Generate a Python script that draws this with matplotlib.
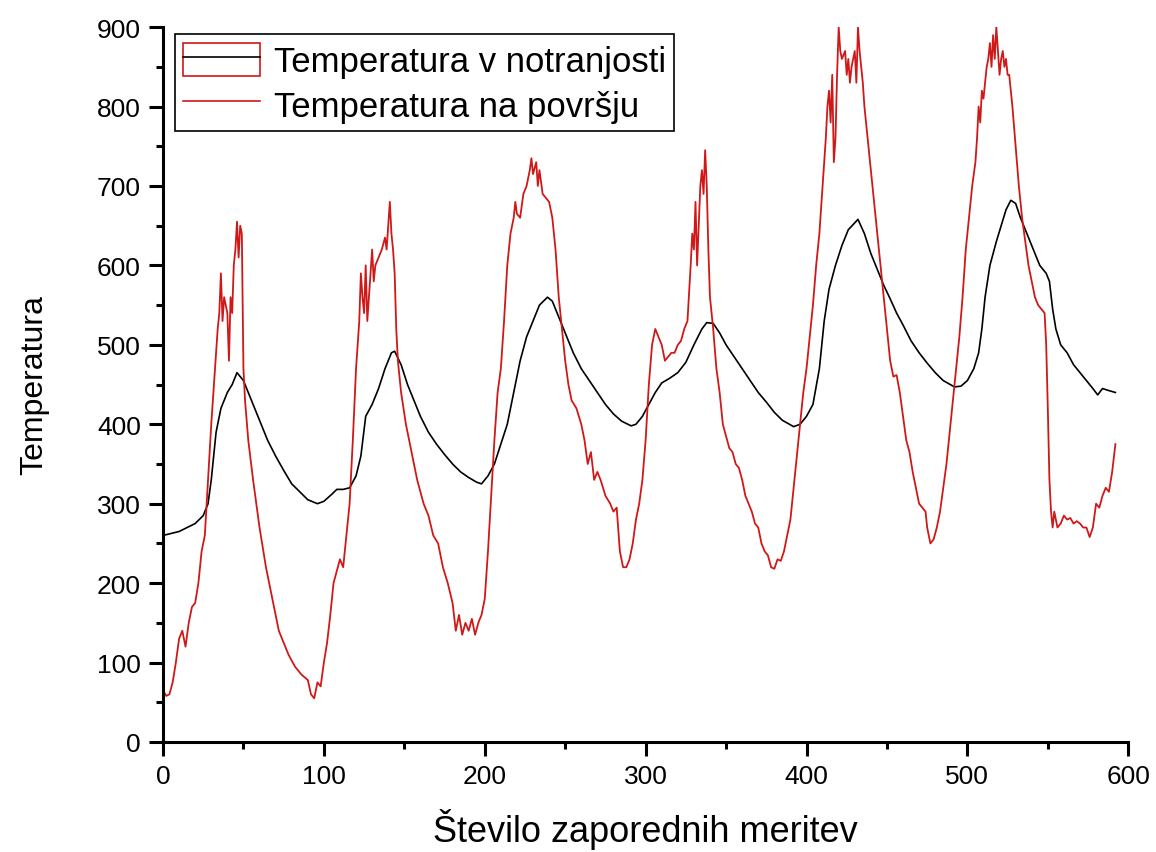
"""
Temperature inside vs. on the surface over consecutive measurements.
"""

import matplotlib
matplotlib.use("Agg")
import matplotlib.pyplot as plt
from matplotlib.lines import Line2D
from matplotlib.patches import Rectangle
from matplotlib.legend_handler import HandlerTuple
from matplotlib.ticker import MultipleLocator

# surface temperature (red)
surface_idx = [0, 2, 4, 6, 8, 10, 12, 14, 16, 18, 20, 22, 24, 26, 28, 30, 32, 34, 35, 36,
               37, 38, 40, 41, 42, 43, 44, 45, 46, 47, 48, 49, 50, 51, 53, 56, 60, 64, 68, 72,
               75, 78, 82, 86, 90, 92, 94, 96, 98, 100, 102, 104, 106, 108, 110, 112, 114, 116, 118, 120,
               122, 123, 124, 125, 126, 127, 128, 130, 131, 132, 134, 136, 138, 139, 140, 141, 142, 143, 144, 145,
               146, 148, 151, 155, 158, 162, 165, 168, 171, 174, 177, 180, 182, 184, 186, 188, 190, 192, 194, 196,
               198, 200, 202, 204, 206, 208, 210, 212, 214, 216, 218, 219, 220, 222, 224, 226, 228, 229, 230, 232,
               233, 234, 236, 238, 240, 242, 244, 246, 248, 250, 252, 254, 257, 260, 262, 264, 266, 268, 270, 272,
               275, 278, 280, 282, 284, 286, 288, 290, 292, 294, 296, 298, 300, 302, 304, 306, 308, 310, 312, 314,
               316, 318, 320, 322, 324, 326, 328, 329, 330, 331, 332, 333, 334, 335, 336, 337, 338, 339, 340, 342,
               344, 346, 348, 350, 352, 354, 356, 358, 360, 362, 364, 366, 368, 370, 372, 374, 376, 378, 380, 382,
               384, 386, 388, 390, 392, 394, 396, 398, 400, 402, 404, 406, 408, 410, 412, 413, 414, 415, 416, 417,
               418, 419, 420, 421, 422, 424, 425, 426, 427, 428, 430, 431, 432, 433, 434, 435, 436, 438, 440, 442,
               444, 446, 448, 450, 452, 454, 456, 458, 460, 462, 464, 466, 468, 470, 472, 474, 475, 477, 479, 481,
               483, 485, 487, 489, 491, 493, 495, 497, 499, 501, 503, 505, 506, 507, 508, 509, 510, 511, 512, 513,
               514, 515, 516, 517, 518, 519, 520, 521, 522, 523, 524, 525, 526, 528, 530, 532, 534, 536, 538, 540,
               542, 544, 546, 548, 549, 550, 551, 552, 553, 554, 555, 556, 558, 560, 562, 564, 566, 568, 570, 572,
               574, 576, 578, 580, 582, 584, 586, 588, 590, 592]
surface_val = [65, 58, 60, 75, 100, 130, 140, 120, 150, 170, 175, 200, 240, 260, 330, 400, 460, 520, 540, 590,
               530, 560, 540, 480, 560, 540, 600, 620, 655, 610, 650, 640, 470, 430, 380, 330, 270, 220, 180, 140,
               125, 110, 95, 85, 78, 60, 55, 75, 70, 100, 125, 160, 200, 215, 230, 220, 260, 300, 380, 470,
               530, 590, 560, 540, 600, 530, 560, 620, 580, 600, 610, 620, 635, 620, 650, 680, 640, 620, 590, 520,
               480, 440, 400, 360, 330, 300, 285, 260, 250, 220, 200, 175, 140, 160, 135, 150, 140, 155, 135, 150,
               160, 180, 240, 310, 380, 440, 470, 530, 600, 640, 660, 680, 665, 660, 690, 700, 720, 735, 715, 730,
               700, 720, 690, 685, 680, 660, 620, 560, 520, 480, 450, 430, 420, 400, 380, 350, 365, 330, 340, 330,
               310, 300, 290, 295, 240, 220, 220, 230, 250, 280, 300, 330, 380, 450, 500, 520, 510, 500, 480, 485,
               490, 490, 500, 505, 520, 530, 600, 640, 620, 680, 600, 650, 700, 720, 690, 745, 700, 620, 560, 520,
               470, 440, 400, 385, 370, 365, 350, 345, 330, 310, 300, 290, 275, 270, 250, 240, 235, 220, 218, 230,
               228, 240, 260, 280, 320, 360, 400, 440, 470, 510, 550, 600, 640, 700, 760, 800, 820, 780, 840, 730,
               760, 840, 900, 870, 860, 870, 840, 860, 830, 850, 870, 830, 900, 870, 850, 830, 800, 760, 720, 680,
               640, 600, 560, 520, 480, 460, 462, 440, 410, 380, 365, 340, 320, 300, 295, 290, 270, 250, 255, 270,
               290, 320, 350, 390, 430, 470, 510, 560, 620, 660, 700, 730, 760, 800, 780, 820, 810, 830, 850, 860,
               880, 850, 890, 860, 900, 870, 840, 860, 870, 850, 860, 840, 840, 800, 750, 700, 660, 630, 600, 580,
               560, 550, 545, 540, 500, 420, 330, 290, 270, 290, 280, 270, 275, 285, 280, 282, 275, 278, 275, 270,
               270, 258, 270, 300, 295, 310, 320, 315, 340, 375]

# inner temperature (black)
inner_idx = [0, 10, 20, 25, 28, 30, 33, 36, 40, 43, 46, 50, 55, 60, 65, 70, 75, 80, 85, 90,
             96, 100, 105, 108, 112, 116, 120, 123, 126, 130, 134, 138, 142, 144, 148, 152, 156, 160, 165, 170,
             175, 180, 185, 190, 195, 198, 202, 206, 210, 214, 218, 222, 226, 230, 234, 239, 242, 246, 250, 255,
             260, 265, 270, 275, 280, 285, 291, 294, 298, 302, 306, 310, 315, 320, 325, 330, 335, 338, 342, 346,
             350, 355, 360, 365, 370, 375, 380, 385, 392, 396, 400, 404, 408, 411, 414, 418, 422, 426, 432, 436,
             440, 444, 448, 452, 456, 460, 465, 470, 475, 480, 485, 492, 496, 500, 504, 507, 509, 511, 514, 518,
             521, 524, 527, 530, 533, 537, 541, 545, 549, 551, 553, 555, 558, 562, 566, 570, 574, 578, 581, 584,
             587, 592]
inner_val = [260, 265, 275, 285, 300, 330, 390, 420, 440, 450, 465, 455, 430, 405, 380, 360, 342, 325, 315, 305,
             300, 303, 312, 318, 318, 320, 335, 360, 410, 425, 445, 470, 490, 492, 475, 450, 430, 410, 390, 375,
             362, 350, 340, 333, 327, 325, 335, 350, 375, 400, 440, 480, 510, 530, 550, 560, 555, 535, 515, 490,
             470, 455, 440, 425, 413, 404, 398, 400, 410, 425, 440, 452, 458, 465, 478, 500, 520, 528, 527, 515,
             500, 485, 470, 455, 440, 428, 415, 405, 397, 400, 410, 425, 470, 530, 570, 600, 625, 645, 658, 640,
             615, 595, 575, 558, 540, 525, 505, 490, 477, 465, 455, 447, 448, 455, 470, 490, 520, 560, 600, 630,
             650, 670, 682, 678, 660, 640, 620, 600, 590, 580, 545, 520, 500, 490, 475, 465, 455, 445, 437, 445,
             443, 440]

RED = "#d01818"
plt.rcParams["font.family"] = ["Liberation Sans", "DejaVu Sans"]

fig = plt.figure(figsize=(11.56, 8.53), dpi=100)
ax = fig.add_axes([0.141, 0.129, 0.835, 0.838])

ax.plot(inner_idx, inner_val, color="black", lw=1.2)
ax.plot(surface_idx, surface_val, color=RED, lw=1.3)

ax.set_xlim(0, 600)
ax.set_ylim(0, 900)
ax.xaxis.set_major_locator(MultipleLocator(100))
ax.xaxis.set_minor_locator(MultipleLocator(50))
ax.yaxis.set_major_locator(MultipleLocator(100))
ax.yaxis.set_minor_locator(MultipleLocator(50))

for side in ("top", "right"):
    ax.spines[side].set_visible(False)
for side in ("left", "bottom"):
    ax.spines[side].set_linewidth(2.2)

ax.tick_params(which="major", direction="out", length=10, width=2.2, labelsize=19, pad=6)
ax.tick_params(which="minor", direction="out", length=5, width=2.2)

ax.set_xlabel("Število zaporednih meritev", fontsize=26, labelpad=14)
ax.set_ylabel("Temperatura", fontsize=23, labelpad=34)

# Origin draws a red box around the first legend line
inner_handle = (Rectangle((0, 0), 1, 1, facecolor="none", edgecolor=RED, lw=1.2),
                Line2D([], [], color="black", lw=1.2))
surface_handle = Line2D([], [], color=RED, lw=1.2)
leg = ax.legend([inner_handle, surface_handle],
                ["Temperatura v notranjosti", "Temperatura na površju"],
                handler_map={tuple: HandlerTuple(ndivide=1)},
                loc="upper left", bbox_to_anchor=(0.012, 0.99), borderaxespad=0,
                fontsize=25, fancybox=False, edgecolor="black", framealpha=1,
                handlelength=2.2, handleheight=1.1, handletextpad=0.4,
                labelspacing=0.25, borderpad=0.25)
leg.get_frame().set_linewidth(1.2)

fig.savefig("out.png", dpi=100)
